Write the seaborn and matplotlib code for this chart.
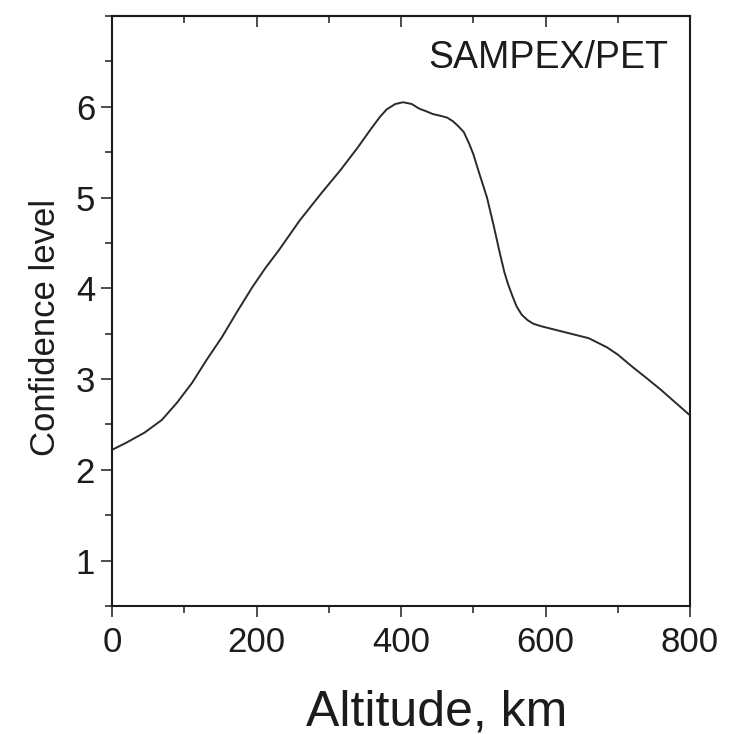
import matplotlib
matplotlib.use("Agg")
import matplotlib.pyplot as plt
from matplotlib.ticker import MultipleLocator
import seaborn as sns
import pandas as pd

altitude_km = [0, 20, 45, 69, 90, 111, 130, 152, 173, 194, 212, 231, 260, 290,
               316, 340, 357, 370, 380, 392, 403, 415, 425, 435, 444, 455, 464,
               472, 480, 487, 494, 500, 507, 513, 519, 528, 537, 543, 548, 554,
               560, 567, 575, 583, 595, 605, 630, 660, 685, 700, 721, 740, 760,
               780, 800]
confidence = [2.22, 2.30, 2.41, 2.55, 2.74, 2.96, 3.20, 3.46, 3.74, 4.01, 4.22,
              4.42, 4.75, 5.05, 5.30, 5.55, 5.74, 5.88, 5.97, 6.03, 6.05, 6.03,
              5.98, 5.95, 5.92, 5.90, 5.88, 5.84, 5.78, 5.72, 5.60, 5.48, 5.30,
              5.15, 5.00, 4.70, 4.38, 4.18, 4.05, 3.92, 3.80, 3.71, 3.65, 3.61,
              3.58, 3.56, 3.51, 3.45, 3.35, 3.27, 3.13, 3.01, 2.88, 2.74, 2.60]
x_ticks = [0, 200, 400, 600, 800]
y_ticks = [1, 2, 3, 4, 5, 6]
label_text = "SAMPEX/PET"

sns.set_style("ticks")
plt.rcParams["font.family"] = ["Liberation Sans", "DejaVu Sans"]
ink = "#1c1c1c"

df = pd.DataFrame({"Altitude": altitude_km, "Confidence": confidence})

fig = plt.figure(figsize=(7.37, 7.34), dpi=100)
ax = fig.add_axes([112 / 737, 1 - 606 / 734, 578 / 737, 590 / 734])

sns.lineplot(data=df, x="Altitude", y="Confidence", ax=ax, color="#2a2a2a",
             linewidth=1.4, sort=False)
for ln in ax.lines:
    ln.set_solid_joinstyle("round")

ax.set_xlim(0, 800)
ax.set_ylim(0.5, 7.0)
ax.set_xticks(x_ticks)
ax.set_yticks(y_ticks)
ax.xaxis.set_minor_locator(MultipleLocator(100))
ax.yaxis.set_minor_locator(MultipleLocator(0.5))

for sp in ax.spines.values():
    sp.set_linewidth(1.5)
    sp.set_color(ink)
    sp.set_visible(True)

ax.tick_params(axis="both", which="both", direction="out", width=1.1, color=ink,
               labelcolor=ink)
ax.tick_params(axis="both", which="major", length=7.7, labelsize=25)
ax.tick_params(axis="both", which="minor", length=5)
ax.tick_params(axis="x", which="major", pad=6.5)
ax.tick_params(axis="y", which="major", pad=4.5)
ax.tick_params(right=False, top=False, which="both")

# top axis: inward ticks without labels
top = ax.secondary_xaxis("top")
top.set_xticks(x_ticks)
top.xaxis.set_minor_locator(MultipleLocator(100))
top.tick_params(axis="x", which="both", direction="in", width=1.1, color=ink,
                labeltop=False)
top.tick_params(axis="x", which="major", length=7.7)
top.tick_params(axis="x", which="minor", length=5)
top.spines["top"].set_linewidth(1.5)
top.spines["top"].set_color(ink)

ax.set_xlabel("Altitude, km", fontsize=36, color=ink)
ax.xaxis.label.set_va("baseline")
ax.xaxis.set_label_coords(0.5614, -0.2017)

ax.set_ylabel("Confidence level", fontsize=25, color=ink)
ax.yaxis.label.set_va("baseline")
ax.yaxis.set_label_coords(-0.0986, 0.472)

ax.text(0.962, 0.929, label_text, transform=ax.transAxes, ha="right",
        va="center", fontsize=27, color=ink)

fig.savefig("out.png", dpi=100)
